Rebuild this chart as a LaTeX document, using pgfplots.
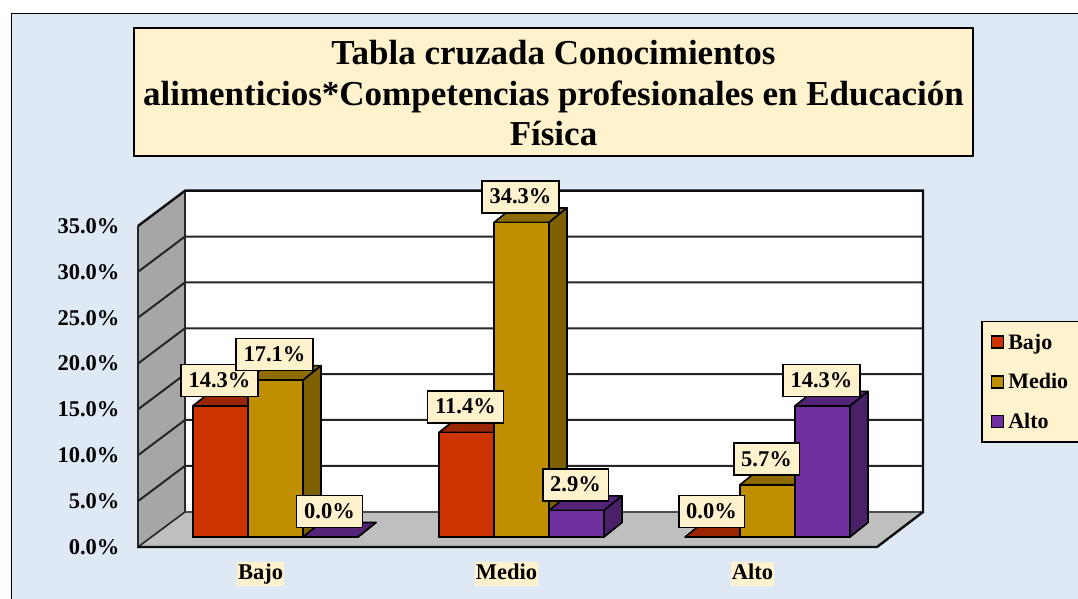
\documentclass[border=0pt]{standalone}
\usepackage{pgfplots}
\pgfplotsset{compat=1.18}
\usepackage{fontspec}
\setmainfont{Liberation Serif}
\definecolor{panel}{HTML}{DEE9F5}
\definecolor{cream}{HTML}{FFF2CC}
\definecolor{cRed}{HTML}{CC3300}
\definecolor{cRedS}{HTML}{7A1F00}
\definecolor{cRedT}{HTML}{992600}
\definecolor{cGold}{HTML}{BF8F00}
\definecolor{cGoldS}{HTML}{7F6000}
\definecolor{cGoldT}{HTML}{8F6C00}
\definecolor{cPur}{HTML}{7030A0}
\definecolor{cPurS}{HTML}{4A2068}
\definecolor{cPurT}{HTML}{542478}
\definecolor{wall}{HTML}{A6A6A6}
\definecolor{floorc}{HTML}{BFBFBF}
% #1 category, #2 left edge offset (pt), #3 right edge offset (pt), #4 value, #5 side, #6 top
\newcommand\faces[6]{%
  \draw[line width=1.6pt,fill=#6,line join=round] ([xshift=#2pt]axis cs:#1,#4) -- ++(18pt,14.5pt) -- ++(55pt,0pt) -- ++(-18pt,-14.5pt) -- cycle;
  \draw[line width=1.6pt,fill=#5,line join=round] ([xshift=#3pt]axis cs:#1,#4) -- ++(18pt,14.5pt) -- ([xshift=#3pt,xshift=18pt,yshift=14.5pt]axis cs:#1,0) -- ([xshift=#3pt]axis cs:#1,0) -- cycle;
}
\pgfplotsset{sq/.style={legend image code/.code={\draw[##1,line width=1.5pt,draw=black] (0pt,-6pt) rectangle (12pt,6pt);}}}
\pgfplotstableread{
x red gold pur
0 14.3 17.1 0.0
1 11.4 34.3 2.9
2 0.0 5.7 14.3
}\datatable
\begin{document}
\begin{tikzpicture}
\fill[white] (0,0) rectangle (1078pt,599pt);
\begin{scope}[x=1pt,y=-1pt,shift={(0pt,599pt)}]
\fill[panel] (11.5,13.5) rectangle (1078,599);
\draw[line width=1.6pt] (11.5,599) -- (11.5,13.5) -- (1078,13.5);
% walls and floor
\fill[white] (185,190.7) rectangle (923,512);
\fill[floorc] (138,547) -- (185,512) -- (923,512) -- (877,547) -- cycle;
\fill[wall] (138,226) -- (185,190.7) -- (185,512) -- (138,547) -- cycle;
\foreach \k in {1,...,6} {
  \pgfmathsetmacro\yb{190.7+45.86*\k}
  \pgfmathsetmacro\yf{226+45.86*\k}
  \draw[line width=2pt,black!85] (138,\yf) -- (185,\yb) -- (923,\yb);
}
\draw[line width=1.6pt,black!85] (138,226) -- (138,547) -- (185,512) -- (185,190.7);
\draw[line width=1.6pt,black!70] (185,512) -- (923,512);
\draw[line width=2.4pt,black!95] (138,226) -- (185,190.7) -- (923,190.7) -- (923,512) -- (877,547) -- (138,547);
\end{scope}
\begin{axis}[
  at={(0,0)},anchor=south west,
  scale only axis,width=1078pt,height=599pt,
  xmin=-1.11992,xmax=3.26220,ymin=-6.761,ymax=58.56,
  clip=false,
  axis line style={draw=none},
  tick style={draw=none},
  ybar=0pt,bar width=55pt,
  xtick={0,1,2},xticklabels={Bajo,Medio,Alto},
  ytick={0,5,...,35},
  /pgf/number format/assume math mode=true,
  /pgf/number format/.cd,fixed,fixed zerofill,precision=1,/pgfplots/.cd,
  yticklabel={\pgfmathprintnumber{\tick}\%},
  ticklabel style={font=\fontsize{22.5pt}{24pt}\selectfont\bfseries},
  yticklabel style={anchor=east,xshift=123pt,yshift=-10pt},
  xticklabel style={anchor=center,xshift=-15pt,yshift=29pt,fill=cream,inner xsep=1pt,inner ysep=0pt,text height=17pt,text depth=7pt},
  title={\rule{0pt}{27pt}Tabla cruzada Conocimientos\\alimenticios*Competencias profesionales en Educación\\Física},
  title style={at={(553.5/1078,1-98/599)},anchor=center,fill=cream,draw=black,line width=1.6pt,
    font=\fontsize{35pt}{40.5pt}\selectfont\bfseries,align=center,minimum width=839pt,minimum height=128pt,inner sep=0pt},
  legend style={at={(981/1078,1-321/599)},anchor=north west,fill=cream,draw=black,line width=1.5pt,
    font=\fontsize{22pt}{24pt}\selectfont\bfseries,legend cell align=left,row sep=19pt,inner ysep=10pt,inner xsep=9pt},
]
\faces{0}{-82.5}{-27.5}{14.3}{cRedS}{cRedT}
\faces{1}{-82.5}{-27.5}{11.4}{cRedS}{cRedT}
\faces{2}{-82.5}{-27.5}{0.0}{cRedS}{cRedT}
\addplot[sq,bar shift=-55pt,fill=cRed,draw=black,line width=1.6pt] table[x=x,y=red]{\datatable};
\addlegendentry{\hspace{2pt}\makebox[90pt][l]{Bajo}}
\faces{0}{-27.5}{27.5}{17.1}{cGoldS}{cGoldT}
\faces{1}{-27.5}{27.5}{34.3}{cGoldS}{cGoldT}
\faces{2}{-27.5}{27.5}{5.7}{cGoldS}{cGoldT}
\addplot[sq,bar shift=0pt,fill=cGold,draw=black,line width=1.6pt] table[x=x,y=gold]{\datatable};
\addlegendentry{\hspace{2pt}\makebox[90pt][l]{Medio}}
\faces{0}{27.5}{82.5}{0.0}{cPurS}{cPurT}
\faces{1}{27.5}{82.5}{2.9}{cPurS}{cPurT}
\faces{2}{27.5}{82.5}{14.3}{cPurS}{cPurT}
\addplot[sq,bar shift=55pt,fill=cPur,draw=black,line width=1.6pt] table[x=x,y=pur]{\datatable};
\addlegendentry{\hspace{2pt}\makebox[90pt][l]{Alto}}
% value labels on top of all bars
\pgfplotsset{lab/.style={forget plot,fill=none,draw=none,bar shift=#1,nodes near coords={\pgfmathprintnumber{\pgfplotspointmeta}\%},
  every node near coord/.style={anchor=center,yshift=25.5pt,xshift=#1-1pt,fill=cream,draw=black,line width=1.6pt,text=black,
  font=\fontsize{22.5pt}{24pt}\selectfont\bfseries,inner xsep=7.5pt,inner ysep=8pt,text height=15pt,text depth=1pt}}}
\addplot[lab=-55pt] table[x=x,y=red]{\datatable};
\addplot[lab=0pt] table[x=x,y=gold]{\datatable};
\addplot[lab=55pt] table[x=x,y=pur]{\datatable};
\end{axis}
\pgfresetboundingbox
\useasboundingbox (0,0) rectangle (1078pt,599pt);
\end{tikzpicture}
\end{document}
